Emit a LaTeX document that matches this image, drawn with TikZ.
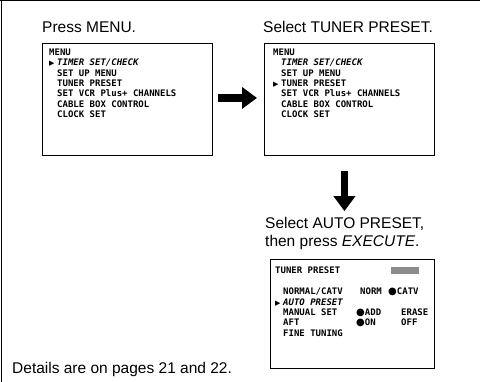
\documentclass[tikz,border=0pt]{standalone}
\usepackage{fontspec}
\setmainfont{Liberation Sans}
\newfontfamily\osdfont{DejaVu Sans Mono}
\newfontfamily\symfont{DejaVu Sans}
\usepackage{tikz}
\usetikzlibrary{arrows.meta}
\usetikzlibrary{positioning}

\newcommand{\osdptr}{\makebox[8pt][l]{\symfont\fontsize{7}{7}\selectfont ▶}}
\newcommand{\osdind}{\hspace*{8pt}}
\newcommand{\osdbul}{{\symfont\fontsize{10}{10}\selectfont ●}}

\begin{document}
\begin{tikzpicture}[x=1pt, y=-1pt,
    menubox/.style={draw, line width=0.9pt, inner sep=0pt, anchor=north west},
    menutext/.style={font=\osdfont\bfseries\fontsize{9}{10.4}\selectfont, align=left, inner sep=0pt},
    steplabel/.style={font=\fontsize{15.5}{18}\selectfont, align=left, inner sep=0pt},
    bigarrow/.style={line width=7.5pt, -{Triangle[length=15pt, width=21pt]}}]
        \useasboundingbox (0,0) rectangle (480,382);
        \draw[line width=1pt] (0,1) -- (480,1);
        \draw[line width=1pt] (1,0) -- (1,382);

        % the three screens
        \node[menubox, minimum width=170pt, minimum height=112pt] (box1) at (42,43) {};
        \node[menubox, minimum width=170pt, minimum height=112pt] (box2) at (264,43) {};
        \node[menubox, minimum width=164pt, minimum height=109pt] (box3) at (270,259) {};

        \node[steplabel, above right=10pt and 0pt of box1.north west] (step1) {Press MENU.};
        \node[steplabel, above right=10pt and -1pt of box2.north west] (step2) {Select TUNER PRESET.};
        \node[steplabel, above right=9.5pt and -5pt of box3.north west] (step3) {Select AUTO PRESET,\\then press \textit{EXECUTE}.};

        \node[menutext, below right=5.5pt and 7pt of box1.north west] (list1) {MENU\\
            \osdptr{\itshape TIMER SET/CHECK}\\
            \osdind SET UP MENU\\
            \osdind TUNER PRESET\\
            \osdind SET VCR Plus+ CHANNELS\\
            \osdind CABLE BOX CONTROL\\
            \osdind CLOCK SET};
        \node[menutext, below right=5.5pt and 9pt of box2.north west] (list2) {MENU\\
            \osdind{\itshape TIMER SET/CHECK}\\
            \osdind SET UP MENU\\
            \osdptr TUNER PRESET\\
            \osdind SET VCR Plus+ CHANNELS\\
            \osdind CABLE BOX CONTROL\\
            \osdind CLOCK SET};
        \node[menutext, below right=8pt and 5pt of box3.north west] (list3) {TUNER PRESET\\[10.4pt]
            \makebox[85pt][l]{\osdind NORMAL/CATV}\makebox[28pt][l]{NORM}\osdbul CATV\\
            \osdptr{\itshape AUTO PRESET}\\
            \makebox[81pt][l]{\osdind MANUAL SET}\makebox[45pt][l]{\osdbul ADD}ERASE\\
            \makebox[81pt][l]{\osdind AFT}\makebox[45pt][l]{\osdbul ON}OFF\\
            \osdind FINE TUNING};
        \node[fill=black!45, minimum width=28pt, minimum height=7pt, inner sep=0pt] (hilite) at (405,271) {};

        \node[steplabel, anchor=base west] (note) at (12,374) {Details are on pages 21 and 22.};

        \draw[bigarrow, shorten <=5pt, shorten >=7pt] ([yshift=1.5pt]box1.east) -- ([yshift=1.5pt]box2.west);
        \draw[bigarrow, shorten <=15pt, shorten >=5.5pt] ([xshift=-5pt]box2.south) -- ([xshift=-5pt]box2.south |- step3.north);
\end{tikzpicture}
\end{document}
